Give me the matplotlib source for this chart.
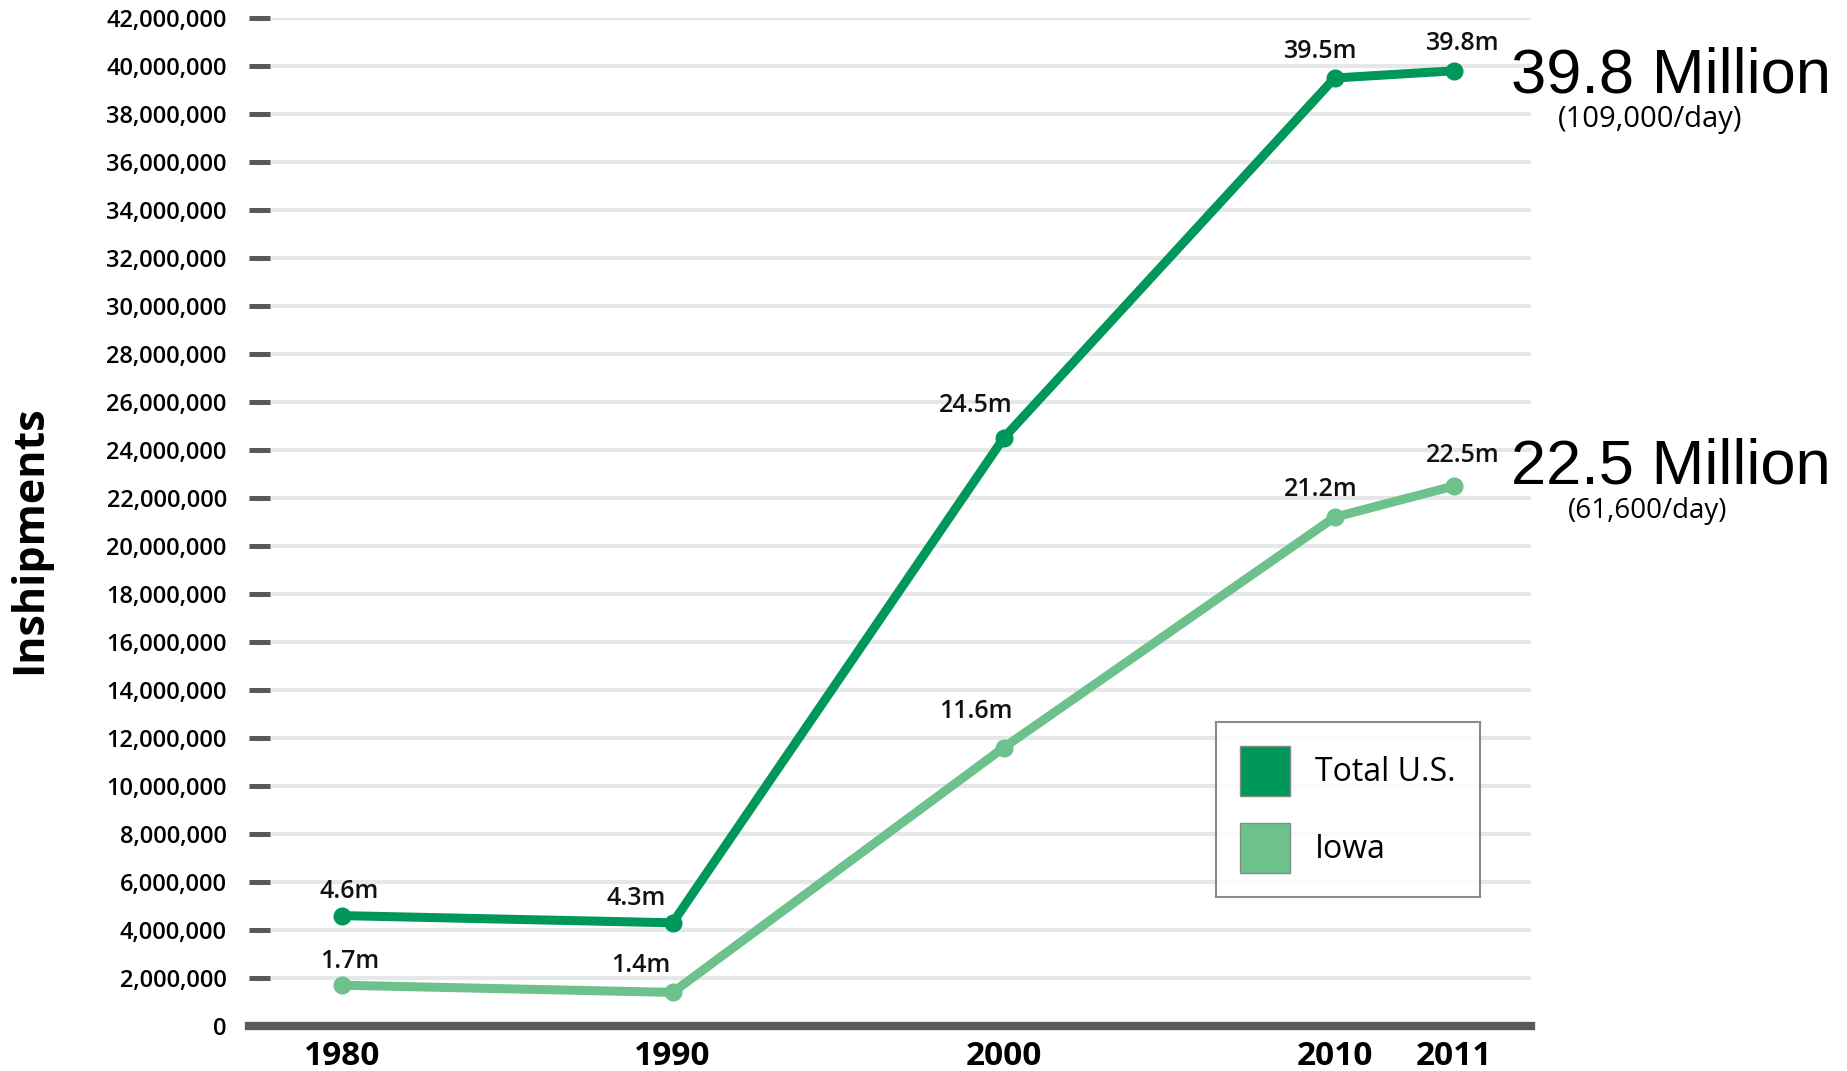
import matplotlib
matplotlib.use('Agg')
import matplotlib.pyplot as plt
import matplotlib.ticker as mticker
from matplotlib.patches import Patch

# data (millions of inshipments)
years = ['1980', '1990', '2000', '2010', '2011']
x_pos = [0, 1, 2, 3, 3.36]
total_us = [4.6, 4.3, 24.5, 39.5, 39.8]
iowa = [1.7, 1.4, 11.6, 21.2, 22.5]
total_labels = ['4.6m', '4.3m', '24.5m', '39.5m', '39.8m']
iowa_labels = ['1.7m', '1.4m', '11.6m', '21.2m', '22.5m']

# label offsets in pixels (dx, dy)
total_off = [(8, 24), (-37, 24), (-28, 32), (-14, 27), (9, 27)]
iowa_off = [(8, 24), (-32, 27), (-28, 36), (-14, 28), (9, 31)]

dark_green = '#00985a'
light_green = '#6cc18c'
grid_gray = '#e6e7e8'
axis_gray = '#58595b'

plt.rcParams['font.family'] = ['Open Sans', 'DejaVu Sans']

fig = plt.figure(figsize=(18.47, 10.71), dpi=100)
ax = fig.add_axes([249 / 1847, 1 - 1026 / 1071, (1531 - 249) / 1847, (1026 - 18) / 1071])

ax.set_xlim(-0.28, 3.593)
ax.set_ylim(0, 42e6)

for s in ax.spines.values():
    s.set_visible(False)

ax.set_yticks(range(0, 42000001, 2000000))
ax.yaxis.set_major_formatter(mticker.FuncFormatter(lambda v, p: '{:,.0f}'.format(v)))
ax.tick_params(axis='y', direction='in', length=15, width=3.6, color=axis_gray, pad=16,
               labelsize=17)
for lab in ax.get_yticklabels():
    lab.set_fontweight('semibold')
ax.yaxis.grid(True, color=grid_gray, linewidth=3)
ax.set_axisbelow(True)

ax.set_xticks(x_pos)
ax.set_xticklabels(years, fontsize=24, fontweight='bold')
ax.tick_params(axis='x', length=0, pad=10)

ax.axhline(0, color=axis_gray, linewidth=6, zorder=2, clip_on=False)

vals_total = [v * 1e6 for v in total_us]
vals_iowa = [v * 1e6 for v in iowa]

ax.plot(x_pos, vals_iowa, color=light_green, lw=6.5, marker='o', ms=12, zorder=3, clip_on=False)
ax.plot(x_pos, vals_total, color=dark_green, lw=6.5, marker='o', ms=12, zorder=4, clip_on=False)

for x, v, t, off in zip(x_pos, vals_total, total_labels, total_off):
    ax.annotate(t, (x, v), xytext=off, textcoords='offset pixels', ha='center', va='center',
                fontsize=18, fontweight='semibold', color='#111111', annotation_clip=False)
for x, v, t, off in zip(x_pos, vals_iowa, iowa_labels, iowa_off):
    ax.annotate(t, (x, v), xytext=off, textcoords='offset pixels', ha='center', va='center',
                fontsize=18, fontweight='semibold', color='#111111', annotation_clip=False)

fig.text(30 / 1847, 1 - 540 / 1071, 'Inshipments', rotation=90, ha='center', va='center',
         fontsize=31, fontweight='bold')

arial = ['Liberation Sans', 'DejaVu Sans']
fig.text(1511 / 1847, 1 - 76 / 1071, '39.8 Million', ha='left', va='center',
         fontsize=45.5, family=arial)
fig.text(1558 / 1847, 1 - 120 / 1071, '(109,000/day)', ha='left', va='center',
         fontsize=21)
fig.text(1511 / 1847, 1 - 467 / 1071, '22.5 Million', ha='left', va='center',
         fontsize=45.5, family=arial)
fig.text(1568 / 1847, 1 - 511 / 1071, '(61,600/day)', ha='left', va='center',
         fontsize=20)

handles = [Patch(facecolor=dark_green, edgecolor='#7f8c84', label='Total U.S.'),
           Patch(facecolor=light_green, edgecolor='#7f8c84', label='Iowa')]
leg = fig.legend(handles=handles, loc='upper left', bbox_to_anchor=(1216 / 1847, 1 - 722 / 1071),
                 fontsize=23, frameon=True, fancybox=False, handlelength=1.56, handleheight=2.03,
                 labelspacing=0.85, handletextpad=0.8, borderpad=0.75, borderaxespad=0)
leg.get_frame().set_edgecolor('#6d6e71')
leg.get_frame().set_linewidth(1.5)

fig.savefig('out.png', dpi=100)
